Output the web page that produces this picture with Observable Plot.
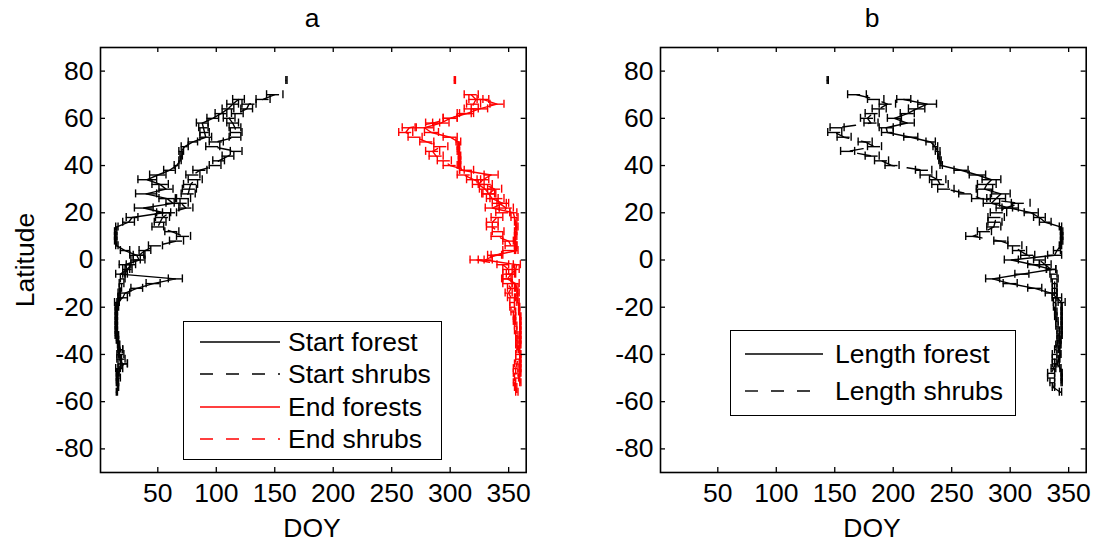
<!DOCTYPE html>
<html><head><meta charset="utf-8">
<script src="https://cdn.jsdelivr.net/npm/d3@7"></script>
<script src="https://cdn.jsdelivr.net/npm/@observablehq/plot@0.6"></script>
<style>
body{margin:0;background:#fff;width:1094px;height:543px;position:relative;overflow:hidden;font-family:"Liberation Sans",Arial,sans-serif;color:#000;}
.panel{position:absolute;top:0;}
.lbl{position:absolute;font-size:26.5px;line-height:1;white-space:nowrap;}
.legend{position:absolute;border:1.5px solid #000;background:#fff;box-sizing:border-box;}
.legend .row{position:absolute;left:0;height:30px;width:100%;}
.legend .row svg{position:absolute;top:0;}
.legend .row span{position:absolute;font-size:26.5px;line-height:30px;top:0;white-space:nowrap;}
</style></head><body>
<div id="a" class="panel" style="left:0"></div>
<div id="b" class="panel" style="left:547px"></div>
<script>
// ---------- data ----------
const xTicks = [50,100,150,200,250,300,350];
const yTicks = [-80,-60,-40,-20,0,20,40,60,80];

// Start forest
const sfLat  = [68,66,64,62,60,58,56,54,52,50,48,46,44,42,40,38,36,34,32,30,28,26,24,22,20,18,16,14,12,10,8,6,4,2,0,-2,-4,-6,-8,-10,-12,-14,-16,-18,-20,-22,-24,-26,-28,-30,-32,-34,-36,-38,-40,-42,-44,-46,-48,-50,-52];
const sfMean = [119,114,110,104,97,88,89,90,91,80,73,70,70,69,66,60,50,41,52,57,40,58,63,38,55,28,25,15,14,14,14,15,22,32,34,22,24,18,65,46,32,22,20,15,14,14,14,14,14,14,14,15,16,18,16,17,20,16,15,15,15];
const sfErr  = [5,5,5,5,5,5,4,4,5,4,3,2,1,1,2,5,7,8,7,6,9,7,6,8,6,5,5,1,1,1,1,1,4,6,5,5,4,4,6,6,5,4,4,2,0.5,0.5,0.5,0.5,0.5,0.5,0.5,0.5,0.5,2,1,2,4,2,0.5,0.5,0.5];

// Start shrubs
const shLat  = [76,74,72,70,68,66,64,62,60,58,56,54,52,50,48,46,44,42,40,38,36,34,32,30,28,26,24,22,20,18,16,14,12,10,8,6,4,2,0,-2,-4,-6,-8,-10,-12,-14,-16,-18,-20,-22,-24,-26,-28,-30,-32,-34,-36,-38,-40,-42,-44,-46,-48,-50,-52,-54,-56];
const ssMean = [160,null,null,150,140,128,126,118,111,114,116,117,116,100,97,117,110,102,99,86,80,82,78,77,76,72,70,74,60,54,52,50,62,72,66,48,39,34,31,27,24,22,20,19,18,17,17,16,16,15,15,15,15,15,16,16,17,18,19,20,21,18,16,17,16,16,15];
const ssErr  = [0.5,null,null,7,6,6,5,5,5,5,5,5,5,6,6,5,5,5,5,6,6,6,6,6,6,6,6,6,6,6,5,5,6,6,6,6,5,5,4,4,2,2,2,2,1,1,1,1,0.5,0.5,0.5,0.5,0.5,0.5,0.5,0.5,0.5,2,2,2,3,2,1,1,0.5,0.5,0.5];

// End forests
const efMean = [328,340,325,314,300,292,278,284,300,307,307,307,308,308,308,310,335,328,324,330,333,336,345,336,354,355,356,357,356,356,355,356,357,338,330,357,356,352,349,356,357,358,357,358,359,359,360,360,360,360,360,360,360,359,360,360,360,360,360,359,360];
const efErr  = [5,6,7,6,6,7,8,6,6,2,1,1,1,1,1,2,6,5,5,5,5,5,5,6,3,3,1,1,1,1,1,1,1,6,6,3,3,4,4,3,1,1,1,1,0.5,0.5,0.5,0.5,0.5,0.5,0.5,0.5,0.5,0.5,0.5,0.5,0.5,0.5,0.5,0.5,0.5];

// End shrubs
const esMean = [304,null,null,318,322,320,318,312,300,285,265,262,270,280,292,285,288,295,300,314,312,320,330,338,333,340,342,348,345,340,336,336,341,340,350,352,350,340,323,345,350,350,348,349,352,350,352,353,353,354,355,355,356,356,357,357,357,358,358,358,357,356,356,357,355,356,357];
const esErr  = [0.5,null,null,6,6,6,6,6,6,6,6,6,6,6,6,6,6,6,6,6,6,6,6,6,6,6,6,6,6,5,5,5,5,5,5,5,5,5,6,5,5,5,4,4,3,3,3,2,2,2,1,1,1,1,1,1,1,1,2,2,2,2,2,2,1,1,1];

// Length forest
const lfMean = [209,229,220,212,201,212,194,195,215,232,236,238,239,240,241,258,272,284,280,278,292,288,284,300,318,325,330,343,344,344,344,343,340,338,301,320,335,310,285,300,321,335,340,344,344,344,344,344,344,344,344,343,343,342,343,342,340,343,344,344,344];
const lfErr  = [6,8,7,6,6,6,6,5,6,4,2,2,1,1,1,6,7,8,8,7,8,8,7,7,6,5,5,1,1,1,1,1,3,6,6,5,4,6,6,6,6,5,4,3,0.5,0.5,0.5,0.5,0.5,0.5,0.5,0.5,0.5,0.5,0.5,0.5,2,0.5,0.5,0.5,0.5];

// Length shrubs
const lsMean = [144,null,null,169,185,195,188,182,178,181,152,150,158,176,184,161,182,190,199,226,230,238,240,245,264,275,309,295,290,288,287,286,278,268,292,304,308,315,325,330,335,337,338,338,338,338,338,338,338,339,339,340,340,341,341,341,340,339,338,338,338,337,335,335,336,337,343];
const lsErr  = [0.5,null,null,8,7,7,6,6,6,6,6,6,6,6,6,6,6,6,6,7,7,7,7,7,8,8,8,7,7,7,6,6,6,6,6,6,6,6,5,5,4,3,3,2,2,2,2,1,1,1,1,1,1,1,1,1,1,1,2,2,2,2,3,3,2,1,1];

// ---------- build ----------
const rows = (lat, mean, err) => lat.map((l, i) => ({lat: l, mean: mean[i], err: err[i]}));
const DASH = "13,13";
const CAP = 1.7;

function seriesMarks(data, color, dashed) {
  const valid = data.filter(d => d.mean != null);
  const da = dashed ? DASH : null;
  return [
    Plot.ruleY(valid, {y: "lat", x1: d => d.mean - d.err, x2: d => d.mean + d.err, stroke: color, strokeWidth: 1.4, strokeDasharray: da}),
    Plot.ruleX(valid, {x: d => d.mean - d.err, y1: d => d.lat - CAP, y2: d => d.lat + CAP, stroke: color, strokeWidth: 1.4}),
    Plot.ruleX(valid, {x: d => d.mean + d.err, y1: d => d.lat - CAP, y2: d => d.lat + CAP, stroke: color, strokeWidth: 1.4}),
    Plot.line(data, {x: "mean", y: "lat", stroke: color, strokeWidth: 1.4, strokeDasharray: da})
  ];
}

function panel(series, marginLeft, marginRight) {
  return Plot.plot({
    width: 547, height: 543,
    marginLeft, marginRight, marginTop: 47, marginBottom: 71,
    style: {fontFamily: '"Liberation Sans", Arial, sans-serif', fontSize: "26.5px", background: "transparent", color: "#000"},
    x: {domain: [1, 365]},
    y: {domain: [-90, 90]},
    marks: [
      ...series.flatMap(s => seriesMarks(s.data, s.color, s.dashed)),
      Plot.ruleX(xTicks, {x: d => d, y1: -90, y2: -87.9, stroke: "#000", strokeWidth: 1.3}),
      Plot.ruleX(xTicks, {x: d => d, y1: 90, y2: 87.9, stroke: "#000", strokeWidth: 1.3}),
      Plot.ruleY(yTicks, {y: d => d, x1: 1, x2: 5.3, stroke: "#000", strokeWidth: 1.3}),
      Plot.ruleY(yTicks, {y: d => d, x1: 365, x2: 360.7, stroke: "#000", strokeWidth: 1.3}),
      Plot.frame({stroke: "#000", strokeWidth: 1.6}),
      Plot.axisX(xTicks, {anchor: "bottom", tickSize: 0, tickPadding: 11, label: null, tickFormat: d => String(d), fontSize: 26.5}),
      Plot.axisY(yTicks, {anchor: "left", tickSize: 0, tickPadding: 7, label: null, tickFormat: d => String(d), fontSize: 26.5})
    ]
  });
}

const sf = rows(sfLat, sfMean, sfErr);
const ss = rows(shLat, ssMean, ssErr);
const ef = rows(sfLat, efMean, efErr);
const es = rows(shLat, esMean, esErr);
const lf = rows(sfLat, lfMean, lfErr);
const ls = rows(shLat, lsMean, lsErr);

document.getElementById("a").appendChild(panel([
  {data: sf, color: "#000", dashed: false},
  {data: ss, color: "#000", dashed: true},
  {data: ef, color: "#ff0000", dashed: false},
  {data: es, color: "#ff0000", dashed: true}
], 100, 21.3));
document.getElementById("b").appendChild(panel([
  {data: lf, color: "#000", dashed: false},
  {data: ls, color: "#000", dashed: true}
], 113, 8.3));

// ---------- text & legends ----------
function label(text, x, y, rotate) {
  const d = document.createElement("div");
  d.className = "lbl";
  d.textContent = text;
  d.style.left = x + "px"; d.style.top = y + "px";
  d.style.transform = "translate(-50%,-50%)" + (rotate ? " rotate(-90deg)" : "");
  document.body.appendChild(d);
}
label("a", 312, 18);
label("b", 872, 18);
label("DOY", 312, 528);
label("DOY", 872, 528);
label("Latitude", 25, 260, true);

function legend(items, left, top, width, height, rowTops, lineX1, lineX2, textX) {
  const box = document.createElement("div");
  box.className = "legend";
  Object.assign(box.style, {left: left + "px", top: top + "px", width: width + "px", height: height + "px"});
  items.forEach((it, i) => {
    const r = document.createElement("div");
    r.className = "row";
    r.style.top = rowTops[i] + "px";
    r.innerHTML = `<svg width="${width}" height="30"><line x1="${lineX1}" x2="${lineX2}" y1="15" y2="15" stroke="${it.color}" stroke-width="1.4" ${it.dashed ? `stroke-dasharray="${DASH}"` : ""}/></svg><span style="left:${textX}px">${it.name}</span>`;
    box.appendChild(r);
  });
  document.body.appendChild(box);
}
legend([
  {name: "Start forest", color: "#000", dashed: false},
  {name: "Start shrubs", color: "#000", dashed: true},
  {name: "End forests", color: "#ff0000", dashed: false},
  {name: "End shrubs", color: "#ff0000", dashed: true}
], 183, 321, 259, 139, [5, 37, 70, 102], 16, 96, 104);
legend([
  {name: "Length forest", color: "#000", dashed: false},
  {name: "Length shrubs", color: "#000", dashed: true}
], 730, 330, 286, 86, [8, 45], 14, 92, 104);
</script>
</body></html>
